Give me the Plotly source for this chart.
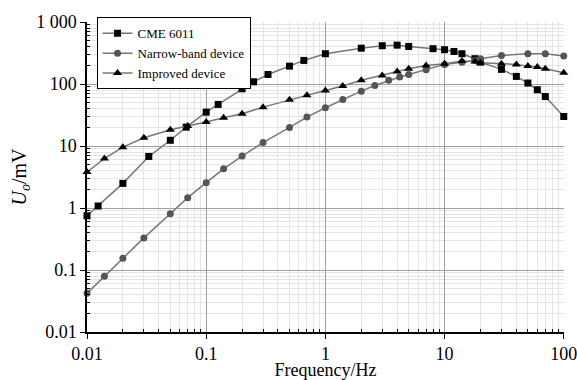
import plotly.graph_objects as go

# CME 6011
cme_f = [0.01, 0.0124, 0.02, 0.033, 0.05, 0.068, 0.1, 0.126, 0.2, 0.25, 0.33, 0.5, 0.66,
         1.0, 2.0, 3.0, 4.0, 5.0, 8.0, 10, 12, 14, 18, 20, 30, 40, 50, 60, 70, 100]
cme_u = [0.75, 1.08, 2.5, 6.8, 12.4, 20.2, 35.3, 47, 84, 109, 143, 195, 241,
         309, 380, 416, 425, 405, 373, 359, 336, 309, 257, 226, 173, 133, 104, 81, 63, 30]

# Narrow-band device
nb_f = [0.01, 0.014, 0.02, 0.03, 0.05, 0.07, 0.1, 0.14, 0.2, 0.3, 0.5, 0.7, 1.0, 1.4,
        2.0, 2.6, 3.4, 4.2, 5.0, 7.0, 10, 14, 18, 20, 30, 50, 70, 100]
nb_u = [0.042, 0.079, 0.155, 0.33, 0.81, 1.47, 2.57, 4.3, 6.9, 11.4, 20, 29.4, 41.6, 56.6,
        77, 95, 115, 130, 143, 171, 208, 226, 241, 257, 290, 309, 309, 283]

# Improved device
im_f = [0.01, 0.014, 0.02, 0.03, 0.05, 0.07, 0.1, 0.14, 0.2, 0.3, 0.5, 0.7, 1.0, 1.4,
        2.0, 3.0, 4.0, 5.0, 7.0, 10, 14, 18, 20, 30, 40, 50, 60, 70, 100]
im_u = [3.8, 6.3, 9.6, 13.6, 18.4, 21, 24.4, 28.7, 33.3, 42.5, 56, 65.8, 79, 93,
        115, 138, 160, 177, 200, 213, 235, 232, 221, 213, 208, 195, 188, 177, 153]

x_ticks = [0.01, 0.1, 1, 10, 100]
x_labels = ["0.01", "0.1", "1", "10", "100"]
y_ticks = [0.01, 0.1, 1, 10, 100, 1000]
y_labels = ["0.01", "0.1", "1", "10", "100", "1 000"]

x_minor = [m * d for d in x_ticks[:-1] for m in range(2, 10)]
y_minor = [m * d for d in y_ticks[:-1] for m in range(2, 10)]

FONT = "Liberation Serif"
line_col = "#777777"

fig = go.Figure()
fig.add_trace(go.Scatter(x=cme_f, y=cme_u, name="CME 6011", mode="lines+markers",
                         line=dict(color=line_col, width=1.5), cliponaxis=False,
                         marker=dict(symbol="square", size=7, color="black")))
fig.add_trace(go.Scatter(x=nb_f, y=nb_u, name="Narrow-band device", mode="lines+markers",
                         line=dict(color=line_col, width=1.5), cliponaxis=False,
                         marker=dict(symbol="circle", size=7, color="#555555")))
fig.add_trace(go.Scatter(x=im_f, y=im_u, name="Improved device", mode="lines+markers",
                         line=dict(color=line_col, width=1.5), cliponaxis=False,
                         marker=dict(symbol="triangle-up", size=8, color="black")))


def axis_common(minor_vals):
    return dict(
        showline=True, linecolor="black", linewidth=1.5, mirror=False,
        showgrid=True, gridcolor="#a0a0a0", gridwidth=1,
        ticks="outside", ticklen=5, tickcolor="black", tickwidth=1.2,
        tickfont=dict(family=FONT, size=18, color="black"),
        ticklabeloverflow="allow", automargin=False,
        zeroline=False,
        minor=dict(tickvals=minor_vals, showgrid=True, gridcolor="#e4e4e4", gridwidth=1,
                   ticks="inside", ticklen=3, tickcolor="black", tickwidth=1),
    )


fig.update_xaxes(type="log", range=[-2, 2.002], tickvals=x_ticks, ticktext=x_labels,
                 title=dict(text="Frequency/Hz", font=dict(family=FONT, size=18, color="black"),
                            standoff=0),
                 **axis_common(x_minor))
fig.update_yaxes(type="log", range=[-2, 3.002], tickvals=y_ticks, ticktext=y_labels,
                 title=dict(text="<i>U</i><sub><i>o</i></sub>/mV",
                            font=dict(family=FONT, size=20, color="black"), standoff=4),
                 **axis_common(y_minor))

fig.update_layout(
    width=577, height=380,
    margin=dict(l=87, r=13, t=22, b=48),
    plot_bgcolor="white", paper_bgcolor="white",
    font=dict(family=FONT, color="black"),
    showlegend=True,
    legend=dict(x=0.02, y=1.015, xanchor="left", yanchor="top",
                bgcolor="white", bordercolor="black", borderwidth=1,
                font=dict(family=FONT, size=13, color="black"),
                tracegroupgap=0, itemwidth=30),
)

fig.write_html("out.html")
